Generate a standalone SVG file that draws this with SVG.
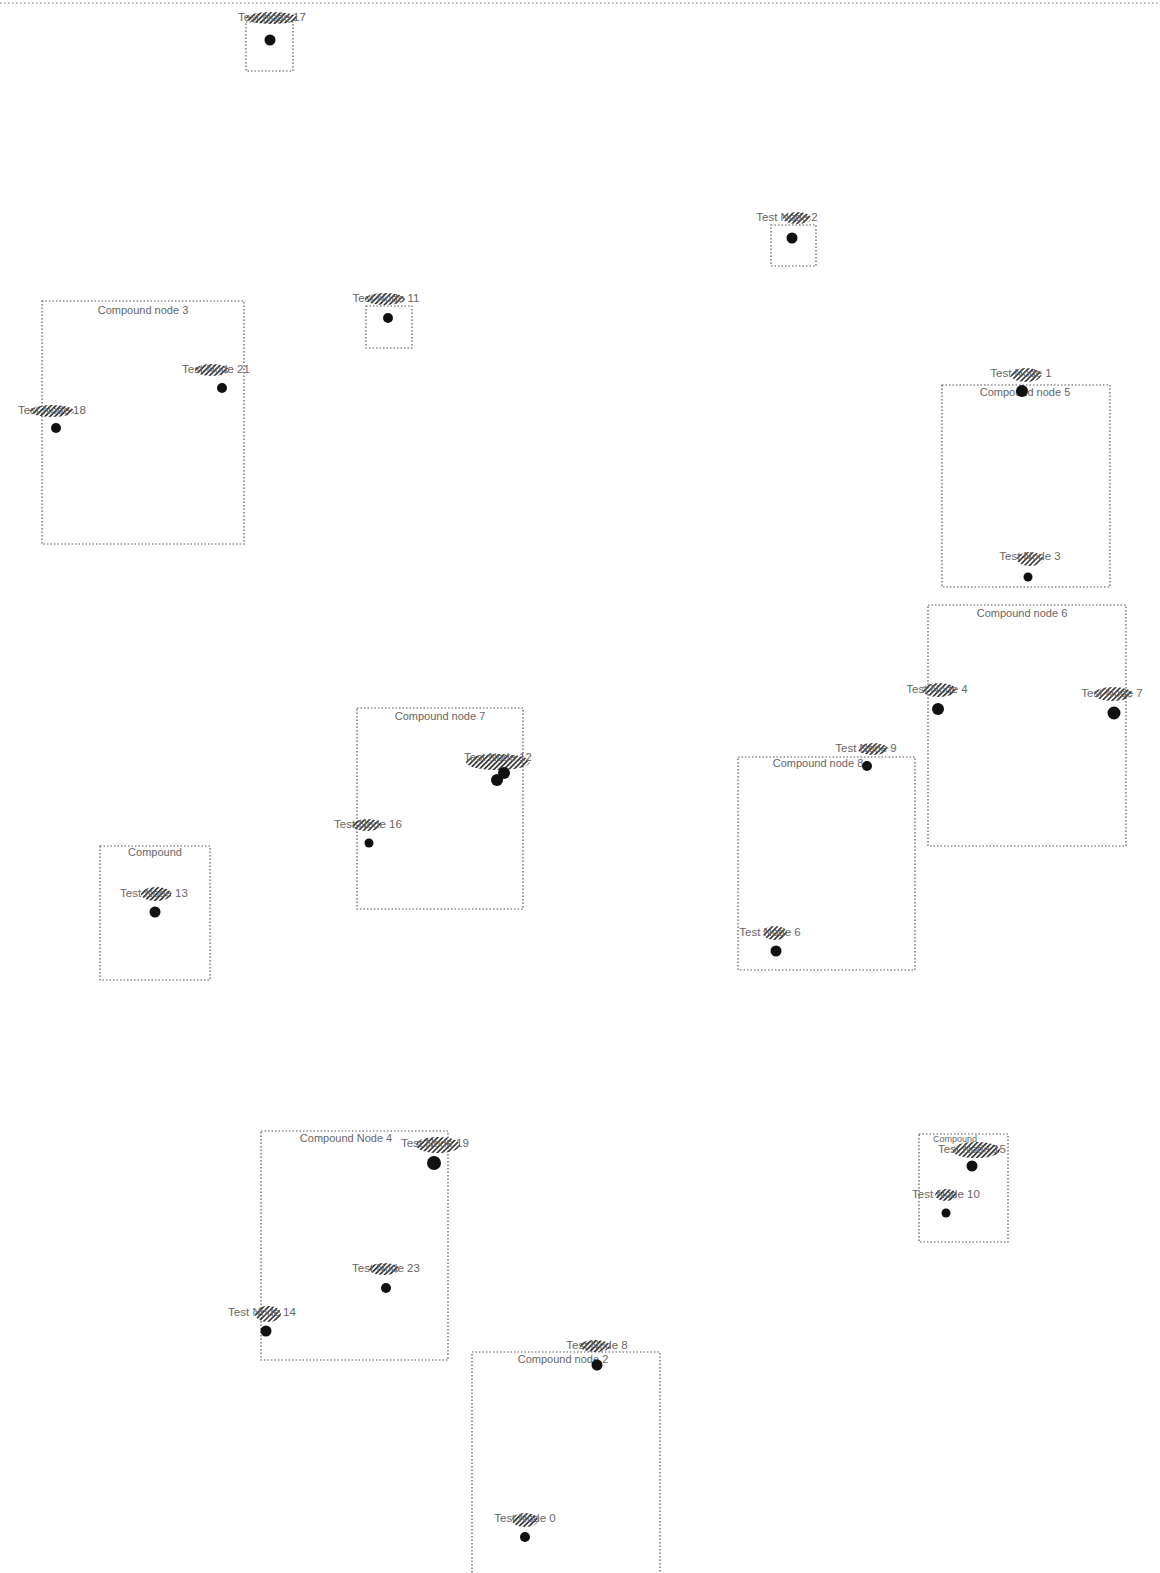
<svg xmlns="http://www.w3.org/2000/svg" width="1160" height="1573" viewBox="0 0 1160 1573">
<style>
.bg{fill:#ffffff}
.frame{fill:none;stroke:#777;stroke-width:1;stroke-dasharray:1.5 2.5}
.grp{fill:none;stroke:#555;stroke-width:1.2;stroke-dasharray:1.5 2}
.gt{font-family:"Liberation Sans",sans-serif;font-size:11px;fill:#666;text-anchor:middle}
.nt{font-family:"Liberation Sans",sans-serif;font-size:11.5px;fill:#666;text-anchor:middle}
.dot{fill:#111}
.hatch{fill:url(#h);opacity:0.9}
</style>
<defs>
<pattern id="h" width="3.5" height="3.5" patternUnits="userSpaceOnUse" patternTransform="rotate(45)">
<rect width="1.7" height="3.5" fill="#222"/>
</pattern>
</defs>
<rect class="bg" width="1160" height="1573"/>
<line class="frame" x1="0" y1="3" x2="1160" y2="3"/>

<g id="groups">
<g id="group-3"><rect class="grp" x="42" y="301" width="202" height="243"/><text class="gt" x="143" y="314">Compound node 3</text></g>
<g id="group-5"><rect class="grp" x="942" y="385" width="168" height="202"/><text class="gt" x="1025" y="396">Compound node 5</text></g>
<g id="group-6"><rect class="grp" x="928" y="605" width="198" height="241"/><text class="gt" x="1022" y="617">Compound node 6</text></g>
<g id="group-7"><rect class="grp" x="357" y="708" width="166" height="201"/><text class="gt" x="440" y="720">Compound node 7</text></g>
<g id="group-1"><rect class="grp" x="100" y="846" width="110" height="134"/><text class="gt" x="155" y="856">Compound</text></g>
<g id="group-8"><rect class="grp" x="738" y="757" width="177" height="213"/><text class="gt" x="818" y="767">Compound node 8</text></g>
<g id="group-4"><rect class="grp" x="261" y="1131" width="187" height="229"/><text class="gt" x="346" y="1142">Compound Node 4</text></g>
<g id="group-2"><rect class="grp" x="472" y="1352" width="188" height="225"/><text class="gt" x="563" y="1363">Compound node 2</text></g>
<g id="group-9"><rect class="grp" x="919" y="1134" width="89" height="108"/><text class="gt" x="955" y="1142" style="font-size:9px">Compound</text></g>
<g id="box-17"><rect class="grp" x="246" y="22" width="47" height="49"/></g>
<g id="box-2"><rect class="grp" x="771" y="225" width="45" height="41"/></g>
<g id="box-11"><rect class="grp" x="366" y="306" width="46" height="42"/></g>
</g>

<g id="connectors"></g>

<g id="nodes">
<g id="node-17"><ellipse class="hatch" cx="272" cy="18" rx="26" ry="6"/><text class="nt" x="272" y="21">Test Node 17</text><circle class="dot" cx="270" cy="40" r="5.5"/></g>
<g id="node-2"><ellipse class="hatch" cx="797" cy="218" rx="14" ry="6"/><text class="nt" x="787" y="221">Test Node 2</text><circle class="dot" cx="792" cy="238" r="5.5"/></g>
<g id="node-11"><ellipse class="hatch" cx="385" cy="299" rx="20" ry="6"/><text class="nt" x="386" y="302">Test Node 11</text><circle class="dot" cx="388" cy="318" r="5"/></g>
<g id="node-21"><ellipse class="hatch" cx="212" cy="370" rx="17" ry="6"/><text class="nt" x="216" y="373">Test Node 21</text><circle class="dot" cx="222" cy="388" r="5"/></g>
<g id="node-18"><ellipse class="hatch" cx="52" cy="411" rx="22" ry="6"/><text class="nt" x="52" y="414">Test Node 18</text><circle class="dot" cx="56" cy="428" r="5"/></g>
<g id="node-1"><ellipse class="hatch" cx="1026" cy="375" rx="15" ry="7"/><text class="nt" x="1021" y="377">Test Node 1</text><circle class="dot" cx="1022" cy="391" r="6"/></g>
<g id="node-3"><ellipse class="hatch" cx="1030" cy="559" rx="13" ry="7"/><text class="nt" x="1030" y="560">Test Node 3</text><circle class="dot" cx="1028" cy="577" r="4.5"/></g>
<g id="node-4"><ellipse class="hatch" cx="939" cy="690" rx="17" ry="7"/><text class="nt" x="937" y="693">Test Node 4</text><circle class="dot" cx="938" cy="709" r="6"/></g>
<g id="node-7"><ellipse class="hatch" cx="1113" cy="694" rx="19" ry="7"/><text class="nt" x="1112" y="697">Test Node 7</text><circle class="dot" cx="1114" cy="713" r="6.5"/></g>
<g id="node-12"><ellipse class="hatch" cx="498" cy="762" rx="32" ry="8"/><text class="nt" x="498" y="761">Test Node 12</text><circle class="dot" cx="497" cy="780" r="6"/><circle class="dot" cx="504" cy="773" r="6"/></g>
<g id="node-16"><ellipse class="hatch" cx="367" cy="825" rx="15" ry="6"/><text class="nt" x="368" y="828">Test Node 16</text><circle class="dot" cx="369" cy="843" r="4.5"/></g>
<g id="node-13"><ellipse class="hatch" cx="156" cy="894" rx="15" ry="7"/><text class="nt" x="154" y="897">Test Node 13</text><circle class="dot" cx="155" cy="912" r="5.5"/></g>
<g id="node-9"><ellipse class="hatch" cx="873" cy="749" rx="15" ry="6"/><text class="nt" x="866" y="752">Test Node 9</text><circle class="dot" cx="867" cy="766" r="5"/></g>
<g id="node-6"><ellipse class="hatch" cx="775" cy="933" rx="12" ry="7"/><text class="nt" x="770" y="936">Test Node 6</text><circle class="dot" cx="776" cy="951" r="5.5"/></g>
<g id="node-19"><ellipse class="hatch" cx="438" cy="1145" rx="22" ry="8"/><text class="nt" x="435" y="1147">Test Node 19</text><circle class="dot" cx="434" cy="1163" r="7"/></g>
<g id="node-23"><ellipse class="hatch" cx="384" cy="1269" rx="15" ry="6"/><text class="nt" x="386" y="1272">Test Node 23</text><circle class="dot" cx="386" cy="1288" r="5"/></g>
<g id="node-14"><ellipse class="hatch" cx="268" cy="1314" rx="13" ry="8"/><text class="nt" x="262" y="1316">Test Node 14</text><circle class="dot" cx="266" cy="1331" r="5.5"/></g>
<g id="node-8"><ellipse class="hatch" cx="595" cy="1346" rx="15" ry="6"/><text class="nt" x="597" y="1349">Test Node 8</text><circle class="dot" cx="597" cy="1365" r="5.5"/></g>
<g id="node-0"><ellipse class="hatch" cx="525" cy="1520" rx="13" ry="7"/><text class="nt" x="525" y="1522">Test Node 0</text><circle class="dot" cx="525" cy="1537" r="5"/></g>
<g id="node-15"><ellipse class="hatch" cx="976" cy="1150" rx="24" ry="8"/><text class="nt" x="972" y="1153">Test Node 15</text><circle class="dot" cx="972" cy="1166" r="5.5"/></g>
<g id="node-10"><ellipse class="hatch" cx="946" cy="1195" rx="11" ry="6"/><text class="nt" x="946" y="1198">Test Node 10</text><circle class="dot" cx="946" cy="1213" r="4.5"/></g>
</g>
</svg>
